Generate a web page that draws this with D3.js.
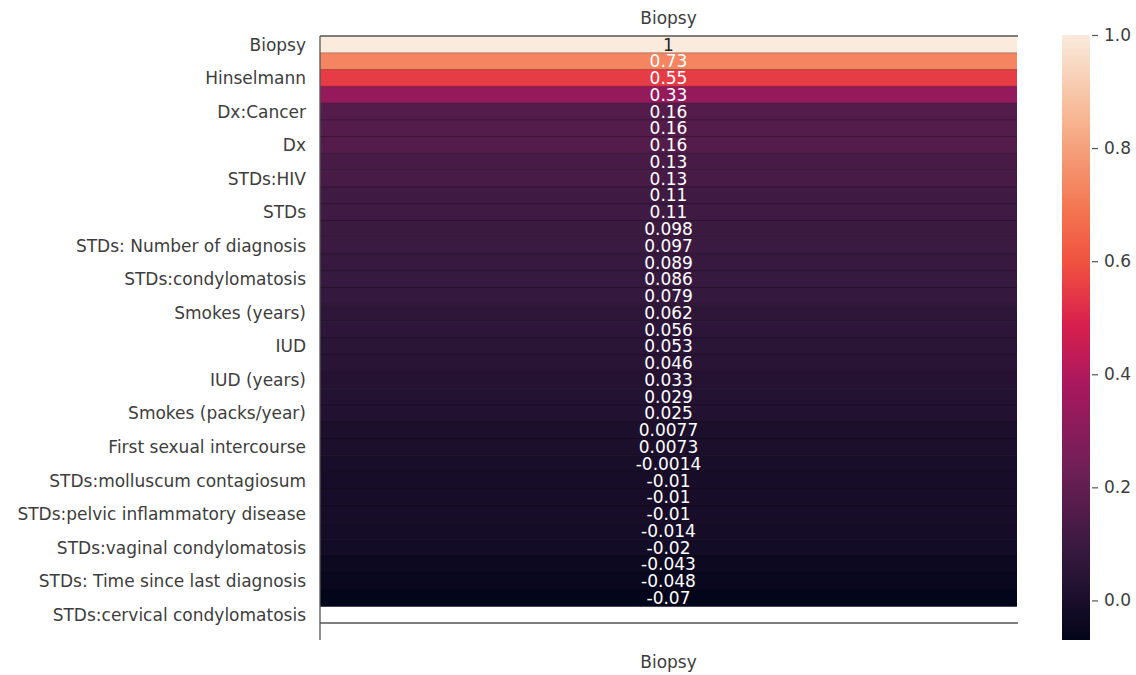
<!DOCTYPE html>
<html>
<head>
<meta charset="utf-8">
<script src="https://cdn.jsdelivr.net/npm/d3@7"></script>
<style>
  body { margin: 0; background: #fff; }
  text { font-family: "DejaVu Sans", sans-serif; }
</style>
</head>
<body>
<svg id="main" width="1136" height="675"></svg>
<script>
// correlation of every feature with Biopsy, sorted descending
var features = [
  "Biopsy", "Schiller", "Hinselmann", "Citology", "Dx:Cancer", "Dx:HPV", "Dx",
  "Dx:CIN", "STDs:HIV", "STDs (number)", "STDs", "STDs: Time since first diagnosis",
  "STDs: Number of diagnosis", "STDs:vulvo-perineal condylomatosis", "STDs:condylomatosis",
  "Age", "Smokes (years)", "Smokes", "IUD", "Num of pregnancies", "IUD (years)",
  "Number of sexual partners", "Smokes (packs/year)", "Hormonal Contraceptives (years)",
  "First sexual intercourse", "STDs:genital herpes", "STDs:molluscum contagiosum",
  "STDs:syphilis", "STDs:pelvic inflammatory disease", "STDs:Hepatitis B",
  "STDs:vaginal condylomatosis", "Hormonal Contraceptives", "STDs: Time since last diagnosis",
  "STDs:HPV", "STDs:cervical condylomatosis"
];

var correlations = [
  1, 0.73, 0.55, 0.33, 0.16, 0.16, 0.16, 0.13, 0.13, 0.11, 0.11, 0.098, 0.097,
  0.089, 0.086, 0.079, 0.062, 0.056, 0.053, 0.046, 0.033, 0.029, 0.025, 0.0077,
  0.0073, -0.0014, -0.01, -0.01, -0.01, -0.014, -0.02, -0.043, -0.048, -0.07, null
];

var annotLabels = [
  "1", "0.73", "0.55", "0.33", "0.16", "0.16", "0.16", "0.13", "0.13", "0.11", "0.11",
  "0.098", "0.097", "0.089", "0.086", "0.079", "0.062", "0.056", "0.053", "0.046",
  "0.033", "0.029", "0.025", "0.0077", "0.0073", "-0.0014", "-0.01", "-0.01", "-0.01",
  "-0.014", "-0.02", "-0.043", "-0.048", "-0.07", ""
];

var colorbarTicks = [0, 0.2, 0.4, 0.6, 0.8, 1.0];

// seaborn "rocket" colormap, sampled
var rocketStops = ["#03051a", "#35193e", "#701f57", "#a8185f", "#d81f4e", "#f0503f", "#f37651", "#f6b48f", "#faebdd"];
var rocketPos = [0, 0.143, 0.286, 0.42, 0.52, 0.62, 0.714, 0.857, 1];

var svg = d3.select("#main");
var ink = "#3d3d3d";
var fontSize = "17px";

var heat = { left: 320, right: 1017, top: 36, bottom: 623 };
var cbar = { left: 1062, right: 1090, top: 35, bottom: 640 };

var vmin = d3.min(correlations), vmax = d3.max(correlations);

var rocket = d3.scaleLinear()
  .domain(rocketPos)
  .range(rocketStops)
  .interpolate(d3.interpolateRgb);

var color = d3.scaleSequential(rocket).domain([vmin, vmax]);

var y = d3.scaleBand()
  .domain(features)
  .range([heat.top, heat.bottom]);

var x = d3.scaleBand()
  .domain(["Biopsy"])
  .range([heat.left, heat.right]);

var rows = features.map(function(f, i) {
  return { name: f, value: correlations[i], label: annotLabels[i], index: i };
});
var filled = rows.filter(function(d) { return d.value !== null; });

// cells
svg.append("g")
  .selectAll("rect")
  .data(filled)
  .enter()
  .append("rect")
  .attr("x", x("Biopsy"))
  .attr("y", function(d) { return y(d.name); })
  .attr("width", x.bandwidth())
  .attr("height", y.bandwidth() + 0.5)
  .attr("fill", function(d) { return color(d.value); });

// faint seams between rows
svg.append("g")
  .selectAll("line")
  .data(filled.slice(1))
  .enter()
  .append("line")
  .attr("x1", heat.left)
  .attr("x2", heat.right)
  .attr("y1", function(d) { return y(d.name); })
  .attr("y2", function(d) { return y(d.name); })
  .attr("stroke", "rgba(0,0,0,0.25)")
  .attr("stroke-width", 1);

// annotations
function luminance(c) {
  var rgb = d3.rgb(c);
  var ch = [rgb.r, rgb.g, rgb.b].map(function(v) {
    v = v / 255;
    return v <= 0.03928 ? v / 12.92 : Math.pow((v + 0.055) / 1.055, 2.4);
  });
  return 0.2126 * ch[0] + 0.7152 * ch[1] + 0.0722 * ch[2];
}

svg.append("g")
  .selectAll("text")
  .data(filled)
  .enter()
  .append("text")
  .attr("x", x("Biopsy") + x.bandwidth() / 2)
  .attr("y", function(d) { return y(d.name) + y.bandwidth() / 2; })
  .attr("dy", "0.36em")
  .attr("text-anchor", "middle")
  .style("font-size", fontSize)
  .attr("fill", function(d) { return luminance(color(d.value)) > 0.408 ? "#262626" : "#ffffff"; })
  .text(function(d) { return d.label; });

// row labels, every other one like seaborn's auto ticks
svg.append("g")
  .selectAll("text")
  .data(rows.filter(function(d) { return d.index % 2 === 0; }))
  .enter()
  .append("text")
  .attr("x", 306)
  .attr("y", function(d) { return y(d.name) + y.bandwidth() / 2; })
  .attr("dy", "0.36em")
  .attr("text-anchor", "end")
  .style("font-size", fontSize)
  .attr("fill", ink)
  .text(function(d) { return d.name; });

// frame lines
var frame = svg.append("g").attr("stroke", "#555").attr("stroke-width", 1.3);
frame.append("line").attr("x1", heat.left).attr("x2", heat.right + 1).attr("y1", heat.top).attr("y2", heat.top);
frame.append("line").attr("x1", heat.left).attr("x2", heat.right + 1).attr("y1", heat.bottom).attr("y2", heat.bottom);
frame.append("line").attr("x1", heat.left).attr("x2", heat.left).attr("y1", heat.top).attr("y2", 640);

// column title and x label
svg.append("text")
  .attr("x", x("Biopsy") + x.bandwidth() / 2)
  .attr("y", 18)
  .attr("dy", "0.36em")
  .attr("text-anchor", "middle")
  .style("font-size", fontSize)
  .attr("fill", ink)
  .text("Biopsy");

svg.append("text")
  .attr("x", x("Biopsy") + x.bandwidth() / 2)
  .attr("y", 662)
  .attr("dy", "0.36em")
  .attr("text-anchor", "middle")
  .style("font-size", fontSize)
  .attr("fill", ink)
  .text("Biopsy");

// colorbar
var grad = svg.append("defs").append("linearGradient")
  .attr("id", "rocket")
  .attr("x1", 0).attr("y1", 1).attr("x2", 0).attr("y2", 0);
grad.selectAll("stop")
  .data(d3.range(0, 1.0001, 0.025))
  .enter()
  .append("stop")
  .attr("offset", function(t) { return t; })
  .attr("stop-color", function(t) { return rocket(t); });

svg.append("rect")
  .attr("x", cbar.left)
  .attr("y", cbar.top)
  .attr("width", cbar.right - cbar.left)
  .attr("height", cbar.bottom - cbar.top)
  .attr("fill", "url(#rocket)");

var cScale = d3.scaleLinear()
  .domain([vmin, vmax])
  .range([cbar.bottom, cbar.top]);

var cAxis = svg.append("g")
  .attr("transform", "translate(" + (cbar.right + 2) + ",0)")
  .call(d3.axisRight(cScale).tickValues(colorbarTicks).tickFormat(d3.format(".1f")).tickSize(6).tickPadding(6));

cAxis.select(".domain").remove();
cAxis.selectAll("line").attr("stroke", "#555").attr("stroke-width", 1.2);
cAxis.selectAll("text")
  .style("font-size", fontSize)
  .style("font-family", "DejaVu Sans, sans-serif")
  .attr("fill", ink);
</script>
</body>
</html>
